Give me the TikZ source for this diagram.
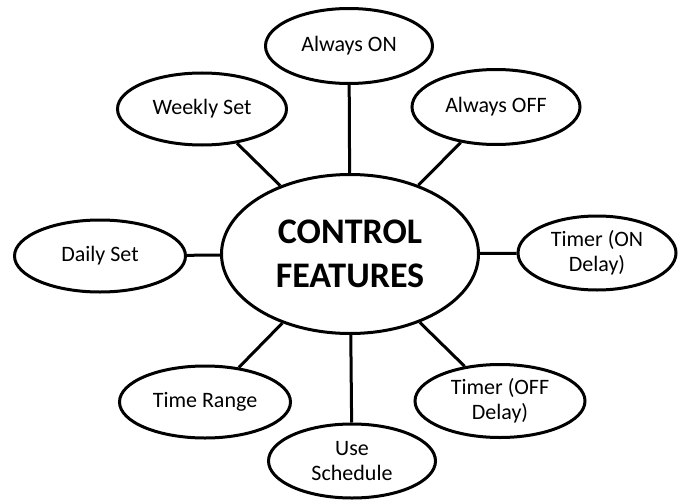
\documentclass[tikz,border=0pt]{standalone}
\usepackage{fontspec}
\setmainfont{Carlito}
\usetikzlibrary{shapes.geometric}

\tikzset{
  feature/.style={draw, ellipse, line width=3pt, inner sep=0pt, align=center,
    font=\fontsize{22}{25}\selectfont},
  hub/.style={draw, ellipse, line width=3pt, inner sep=0pt, align=center,
    font=\fontsize{36}{44}\selectfont\bfseries}
}

\begin{document}
\begin{tikzpicture}[x=1pt, y=-1pt]
    \useasboundingbox (0,0) rectangle (679,500);
    \node [hub, minimum width=257, minimum height=159] (ctrl) at (350,254)
      {CONTROL\\FEATURES};
    \node [feature, minimum width=167, minimum height=75] (alwayson) at (349,46) {Always ON};
    \node [feature, minimum width=169, minimum height=72] (weekly) at (202,109) {Weekly Set};
    \node [feature, minimum width=168, minimum height=75] (alwaysoff) at (496,107) {Always OFF};
    \node [feature, minimum width=171, minimum height=72] (daily) at (100,256) {Daily Set};
    \node [feature, minimum width=158, minimum height=74] (timeron) at (597,253) {Timer (ON\\Delay)};
    \node [feature, minimum width=171, minimum height=72] (timerange) at (205,402) {Time Range};
    \node [feature, minimum width=167, minimum height=74] (useschedule) at (352,461) {Use\\Schedule};
    \node [feature, minimum width=170, minimum height=73] (timeroff) at (500,401) {Timer (OFF\\Delay)};
    \draw [line width=3pt] (ctrl) -- (alwayson)
      (ctrl) -- (weekly)
      (ctrl) -- (alwaysoff)
      (ctrl) -- (daily)
      (ctrl) -- (timeron)
      (ctrl) -- (timerange)
      (ctrl) -- (useschedule)
      (ctrl) -- (timeroff);
  \end{tikzpicture}
\end{document}
